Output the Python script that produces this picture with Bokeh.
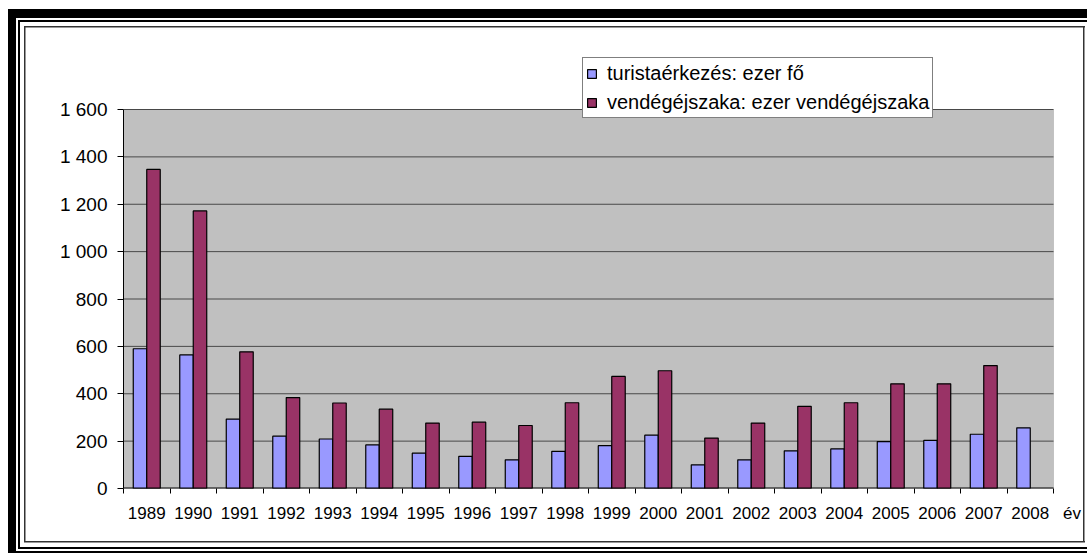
import numpy as np
from bokeh.plotting import figure
from bokeh.models import (Range1d, FixedTicker, Legend, LegendItem, BoxAnnotation,
                          ColumnDataSource)
from bokeh.transform import dodge
from bokeh.embed import file_html
from bokeh.resources import INLINE

# ---------------- data ----------------
years = ["1989", "1990", "1991", "1992", "1993", "1994", "1995", "1996", "1997", "1998",
         "1999", "2000", "2001", "2002", "2003", "2004", "2005", "2006", "2007", "2008"]
arrivals = [590, 564, 293, 221, 209, 184, 149, 136, 121, 157,
            181, 225, 100, 121, 159, 167, 198, 203, 229, 256]
nights = [1347, 1172, 577, 384, 361, 335, 276, 280, 266, 362,
          473, 497, 213, 276, 347, 362, 442, 442, 519, float("nan")]
y_ticks = [0, 200, 400, 600, 800, 1000, 1200, 1400, 1600]
y_tick_labels = ["0", "200", "400", "600", "800", "1 000", "1 200", "1 400", "1 600"]
series_names = ["turistaérkezés: ezer fő", "vendégéjszaka: ezer vendégéjszaka"]
x_unit = "év"

FONT = "Liberation Sans"
BLUE = "#9999FF"
RED = "#993366"

W, H = 1087, 553
# plot-area (gray) edges in canvas px and the larger frame that also holds legend & unit
PL, PR, PT, PB = 123, 1053, 109, 488
FT, FR = 56, 1082
n = len(years)
YMAX = y_ticks[-1]
ppu_y = (PB - PT) / YMAX
ppu_x = (PR - PL) / n
y_end = YMAX + (PT - FT) / ppu_y
x_end = n + (FR - PR) / ppu_x
unit_pos = n + 0.4

xc = [i + 0.5 for i in range(n)]
src = ColumnDataSource(dict(x=xc, arrivals=arrivals, nights=nights))
grid_src = ColumnDataSource(dict(y=y_ticks[1:], x0=[0] * (len(y_ticks) - 1),
                                 x1=[n] * (len(y_ticks) - 1)))

# ------------- decorative frame drawn as CSS background rectangles -------------
def rect(x, y, w, h, c):
    return f"linear-gradient({c},{c}) {x}px {y}px / {w}px {h}px no-repeat"

IN = "#333333"
frame_layers = [
    rect(8, 9, 1079, 9, "black"), rect(8, 9, 8, 544, "black"), rect(8, 551, 1079, 2, "black"),
    rect(18, 20, 1069, 2, "black"), rect(18, 20, 2, 529, "black"), rect(18, 547, 1069, 2, "black"),
    rect(24, 26, 1061, 1.5, IN), rect(24, 26, 1.5, 516, IN),
    rect(1083, 26, 1.5, 516, IN), rect(24, 541, 1061, 1.5, IN),
]
bg = ", ".join(frame_layers) + ", white"

p = figure(width=W, height=H, output_backend="svg", toolbar_location=None,
           x_range=Range1d(0, x_end), y_range=Range1d(0, y_end),
           styles={"background": bg})
p.min_border = 0
p.min_border_left = PL
p.min_border_right = W - FR
p.min_border_top = FT
p.min_border_bottom = H - PB
p.border_fill_color = None
p.background_fill_color = None
p.outline_line_color = None
p.xgrid.visible = False
p.ygrid.visible = False

# gray plot area with its border
p.add_layout(BoxAnnotation(left=0, right=n, bottom=0, top=YMAX, level="underlay",
                           fill_color="#C0C0C0", fill_alpha=1,
                           line_color="#808080", line_width=1))

# horizontal gridlines (only across the plot area)
p.segment(x0="x0", x1="x1", y0="y", y1="y", source=grid_src,
          line_color="#484848", line_width=1)

# ------------- bars -------------
bw = 0.29
r1 = p.vbar(x=dodge("x", -bw / 2, range=p.x_range), width=bw, top="arrivals", bottom=0,
            source=src, fill_color=BLUE, line_color="black", line_width=1.2)
r2 = p.vbar(x=dodge("x", bw / 2, range=p.x_range), width=bw, top="nights", bottom=0,
            source=src, fill_color=RED, line_color="black", line_width=1.2)

# x axis line only across the plot area
p.segment(x0=[0], x1=[n], y0=[0], y1=[0], line_color="black", line_width=2)

# ------------- axes -------------
xa = p.xaxis[0]
xa.ticker = FixedTicker(ticks=xc + [unit_pos], minor_ticks=list(range(n + 1)))
overrides = {x: y for x, y in zip(xc, years)}
overrides[unit_pos] = x_unit
xa.major_label_overrides = overrides
xa.axis_line_color = None
xa.major_tick_line_color = None
xa.major_tick_out = 0
xa.major_tick_in = 0
xa.minor_tick_line_color = "black"
xa.minor_tick_out = 5
xa.minor_tick_in = 0
xa.major_label_standoff = 10
xa.major_label_text_font = FONT
xa.major_label_text_font_size = "17px"
xa.major_label_text_color = "black"

ya = p.yaxis[0]
ya.bounds = (0, YMAX)
ya.ticker = FixedTicker(ticks=y_ticks)
ya.major_label_overrides = {t: s for t, s in zip(y_ticks, y_tick_labels)}
ya.minor_tick_line_color = None
ya.major_tick_out = 6
ya.major_tick_in = 0
ya.major_tick_line_color = "black"
ya.axis_line_color = "black"
ya.major_label_standoff = 10
ya.major_label_text_font = FONT
ya.major_label_text_font_size = "19px"
ya.major_label_text_color = "black"

# ------------- legend -------------
legend = Legend(items=[LegendItem(label=series_names[0], renderers=[r1]),
                       LegendItem(label=series_names[1], renderers=[r2])],
                location=(582 - PL, PB - 118))
legend.border_line_color = "black"
legend.border_line_width = 1
legend.background_fill_color = "white"
legend.background_fill_alpha = 1
legend.label_text_font = FONT
legend.label_text_font_size = "20px"
legend.label_text_color = "black"
legend.glyph_width = 11
legend.glyph_height = 11
legend.label_standoff = 10
legend.padding = 3
legend.spacing = 5
legend.margin = 0
legend.label_height = 24
p.add_layout(legend)

open("out.html", "w").write(file_html(p, INLINE))
